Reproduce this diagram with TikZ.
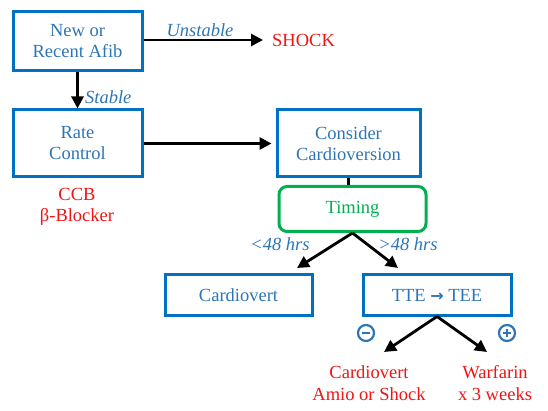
\documentclass[tikz,border=0pt]{standalone}
\usepackage{fontspec}
\setmainfont{Liberation Serif}
\newfontfamily\arrowfont{DejaVu Sans}
\usetikzlibrary{arrows.meta}
\definecolor{boxblue}{RGB}{0,112,192}
\definecolor{txtblue}{RGB}{46,117,182}
\definecolor{alert}{RGB}{240,20,20}
\definecolor{okgreen}{RGB}{0,176,80}

\begin{document}
\begin{tikzpicture}[x=1pt,y=-1pt,
  box/.style={draw=boxblue,line width=3pt,text=txtblue,align=center,inner sep=0pt,
    font=\fontsize{18.5}{21}\selectfont},
  link/.style={line width=2.8pt,-{Triangle[length=12pt,width=12pt]}},
  lbl/.style={text=txtblue,font=\fontsize{18.5}{21}\selectfont\itshape,inner sep=0pt},
  outcome/.style={text=alert,align=center,inner sep=0pt,font=\fontsize{18.5}{21.5}\selectfont},
  sign/.style={draw=txtblue,line width=2.2pt}]
  \useasboundingbox (0,0) rectangle (548,411);
  %boxes
  \node[box,minimum width=129pt,minimum height=59pt] (afib) at (77.5,41.5) {New or\\Recent Afib};
  \node[box,minimum width=129pt,minimum height=67pt] (rate) at (77.5,143.5) {Rate\\Control};
  \node[box,minimum width=143pt,minimum height=67pt] (consider) at (348.5,143.5) {Consider\\Cardioversion};
  \node[box,draw=okgreen,text=okgreen,rounded corners=8pt,minimum width=147pt,minimum height=45pt] (timing) at (352.5,209) {Timing};
  \node[box,minimum width=147pt,minimum height=40pt] (cardio) at (238.5,295) {Cardiovert};
  \node[box,minimum width=148pt,minimum height=40pt] (tte) at (437,295) {TTE {\arrowfont\bfseries\fontsize{16}{16}\selectfont →} TEE};
  %texts
  \node[outcome,anchor=west] (shock) at (272,40) {SHOCK};
  \node[outcome] (drugs) at (77,207) {CCB\\β-Blocker};
  \node[outcome] (neg) at (369,383) {Cardiovert\\Amio or Shock};
  \node[outcome] (pos) at (495,383) {Warfarin\\x 3 weeks};
  \node[lbl] (unstable) at (200,30) {Unstable};
  \node[lbl,anchor=west] (stable) at (85,97) {Stable};
  \node[lbl] (early) at (280,244) {<48 hrs};
  \node[lbl] (late) at (408,244) {>48 hrs};
  %tips
  \coordinate (tipA) at (297,268);
  \coordinate (tipB) at (398,268);
  \coordinate (tipC) at (384,352);
  \coordinate (tipD) at (487,352);
  %arrows
  \draw[link,shorten >=9pt] (afib.east |- shock) -- (shock.west);
  \draw[link] (afib) -- (rate);
  \draw[link,shorten >=4pt] (rate) -- (consider);
  \draw[line width=2.8pt] (consider.south) -- (consider.south |- timing.north);
  \draw[link] (timing.south) -- (tipA);
  \draw[link] (timing.south) -- (tipB);
  \draw[link] (tte.south) -- (tipC);
  \draw[link] (tte.south) -- (tipD);
  %signs
  \draw[sign] (366,333) circle (8);
  \draw[sign,line width=2.8pt] (362,333) -- (370,333);
  \draw[sign] (507,333) circle (8);
  \draw[sign,line width=2.8pt] (503,333) -- (511,333) (507,329) -- (507,337);
\end{tikzpicture}
\end{document}
